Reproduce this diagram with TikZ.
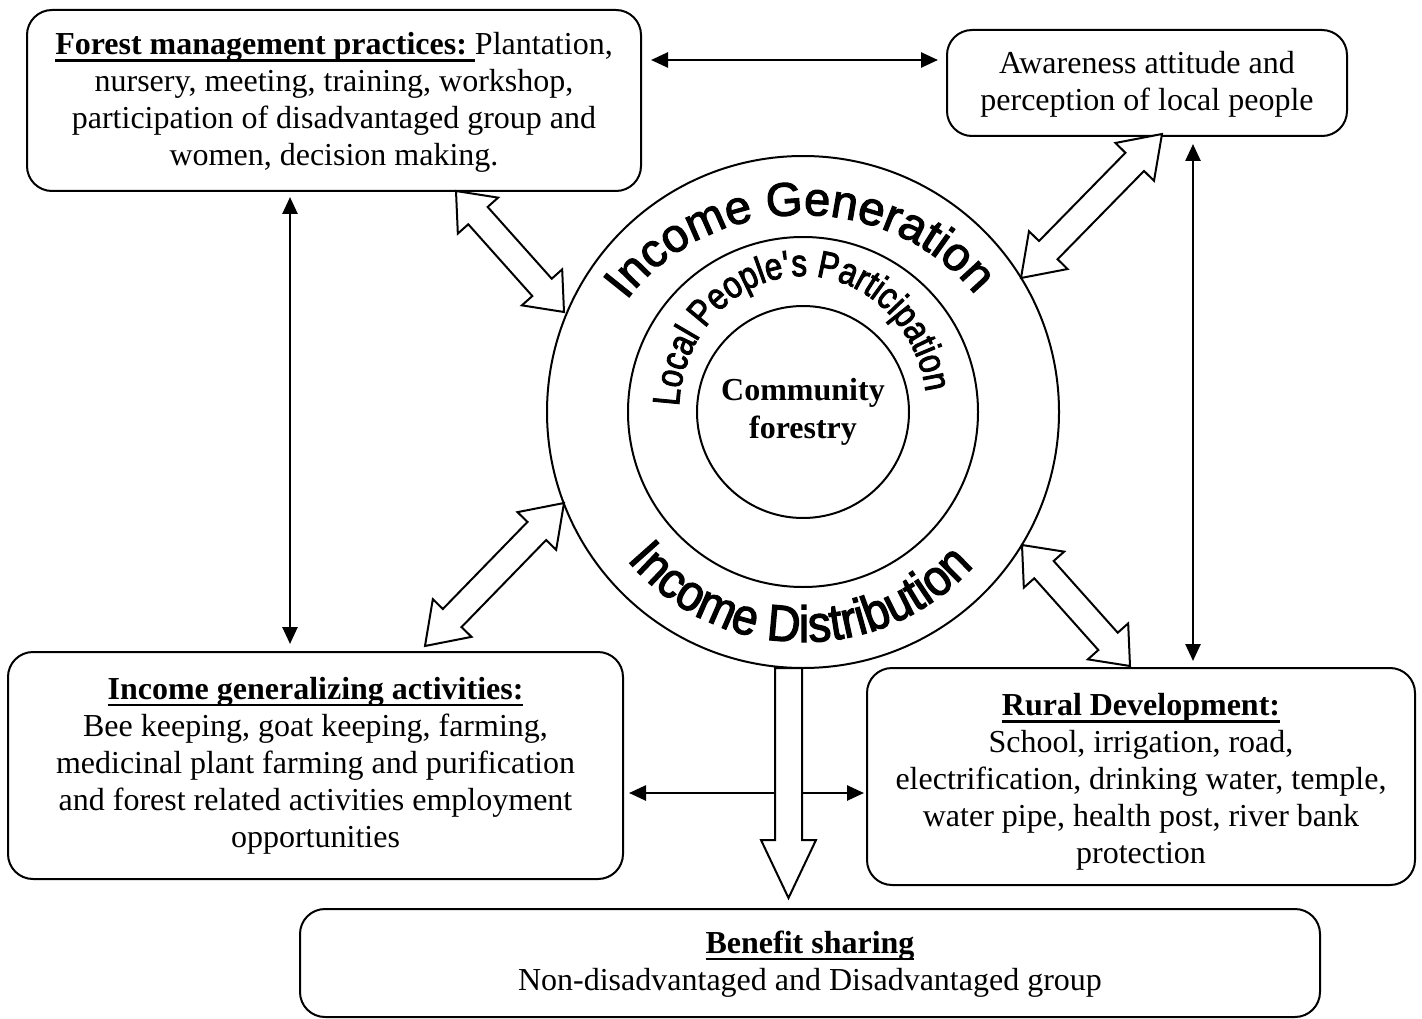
\documentclass[tikz,border=0pt]{standalone}
\usepackage{fontspec}
\setmainfont{Liberation Serif}
\newfontfamily\genfont[FakeBold=2.4]{Liberation Sans}
\newfontfamily\locfont[FakeStretch=0.82,FakeBold=2.4]{Liberation Sans}
\newfontfamily\distfont[FakeStretch=0.9,FakeBold=2.4]{Liberation Sans}
\usetikzlibrary{arrows.meta,calc,decorations.text}

\newcommand{\ulhead}[1]{\setbox0\hbox{#1}\rlap{\rule[-7pt]{\wd0}{2.4pt}}\box0}

\newcommand{\hollowdbl}[3]{%
  \path ($(#1)!#3!(#2)$) coordinate (hp) ($(#2)!#3!(#1)$) coordinate (hq);
  \draw[hollow] (#1) -- ($(hp)!27pt!90:(#2)$) -- ($(hp)!13pt!90:(#2)$)
    -- ($(hq)!13pt!-90:(#1)$) -- ($(hq)!27pt!-90:(#1)$) -- (#2)
    -- ($(hq)!27pt!90:(#1)$) -- ($(hq)!13pt!90:(#1)$)
    -- ($(hp)!13pt!-90:(#2)$) -- ($(hp)!27pt!-90:(#2)$) -- cycle;}

\begin{document}
\begin{tikzpicture}[x=1pt,y=1pt,
  box/.style={draw, line width=2pt, rounded corners=25pt, inner sep=0pt},
  boxtext/.style={align=center, font=\fontsize{32}{37}\selectfont, inner sep=0pt},
  conn/.style={line width=2.6pt,
    {Triangle[length=17pt,width=15pt]}-{Triangle[length=17pt,width=15pt]}},
  hollow/.style={draw, line width=2pt, fill=white, line join=miter},
  ring/.style={draw, circle, line width=2pt, inner sep=0pt}]
\useasboundingbox (0,0) rectangle (1422,-1019);

% boxes
\node[box, minimum width=614pt, minimum height=181pt] (B1) at (334,-100.5) {};
\node[boxtext] (B1t) at (334,-102.5)
  {\ulhead{\textbf{Forest management practices:}\ }Plantation,\\
   nursery, meeting, training, workshop,\\
   participation of disadvantaged group and\\
   women, decision making.};
\node[box, minimum width=400pt, minimum height=106pt] (B2) at (1147,-83) {};
\node[boxtext] (B2t) at (1147,-84)
  {Awareness attitude and\\ perception of local people};
\node[box, minimum width=615pt, minimum height=227pt] (B3) at (315.5,-765.5) {};
\node[boxtext] (B3t) at (315.5,-765.5)
  {\ulhead{\textbf{Income generalizing activities:}}\\
   Bee keeping, goat keeping, farming,\\
   medicinal plant farming and purification\\
   and forest related activities employment\\
   opportunities};
\node[box, minimum width=548pt, minimum height=217pt] (B4) at (1141,-776.5) {};
\node[boxtext] (B4t) at (1141,-782)
  {\ulhead{\textbf{Rural Development:}}\\
   School, irrigation, road,\\
   electrification, drinking water, temple,\\
   water pipe, health post, river bank\\
   protection};
\node[box, minimum width=1020pt, minimum height=108pt] (B5) at (810,-963) {};
\node[boxtext] (B5t) at (810,-964)
  {\ulhead{\textbf{Benefit sharing}}\\
   Non-disadvantaged and Disadvantaged group};

% circles
\coordinate (C) at (803,-412);
\node[ring, minimum size=512pt] (outer) at (C) {};
\node[ring, minimum size=350pt] (mid) at (C) {};
\node[ring, minimum size=212pt, align=center,
  font=\bfseries\fontsize{32}{38}\selectfont] (inner) at (C) {Community\\forestry};

% curved texts
\path[decorate, decoration={text along path,
  text={|\genfont\fontsize{47}{47}\selectfont|Income Generation}, text align=center}]
  ($(C)+(181:214pt and 197pt)$) arc[start angle=181, end angle=1, x radius=214pt, y radius=197pt];
\path[decorate, decoration={text along path,
  text={|\locfont\fontsize{38}{38}\selectfont|Local People{\textquotesingle}s Participation}, text align=center}]
  ($(C)+(183:124pt and 136pt)$) arc[start angle=183, end angle=3, x radius=124pt, y radius=136pt];
\path[decorate, decoration={text along path,
  text={|\distfont\fontsize{51}{51}\selectfont|Income Distribution}, text align=center}]
  ($(C)+(179:230pt and 230pt)$) arc[start angle=179, end angle=359, radius=230pt];

% straight connectors
\coordinate (ya) at (0,-60);
\coordinate (yb) at (0,-793);
\coordinate (xa) at (290,0);
\coordinate (xb) at (1193,0);
\draw[conn, shorten <=9pt, shorten >=8pt] (B1.east |- ya) -- (B2.west |- ya);
\draw[conn, shorten <=5pt, shorten >=7pt] (B1.south -| xa) -- (B3.north -| xa);
\draw[conn, shorten <=7pt, shorten >=6pt] (B2.south -| xb) -- (B4.north -| xb);
\draw[conn, shorten <=5pt, shorten >=2pt] (B3.east |- yb) -- (B4.west |- yb);

% block arrow down
\draw[hollow] (775,-668) -- (802,-668) -- (802,-840) -- (816,-840)
  -- (788.5,-898) -- (761,-840) -- (775,-840) -- cycle;

% hollow double arrows
\coordinate (a1) at (456,-191);  \coordinate (a2) at (564,-312);
\coordinate (b1) at (1162,-134); \coordinate (b2) at (1021,-278);
\coordinate (c1) at (564,-503);  \coordinate (c2) at (425,-646);
\coordinate (d1) at (1022,-545); \coordinate (d2) at (1130,-666);
\hollowdbl{a1}{a2}{33pt}
\hollowdbl{b1}{b2}{39pt}
\hollowdbl{c1}{c2}{39pt}
\hollowdbl{d1}{d2}{33pt}
\end{tikzpicture}
\end{document}
